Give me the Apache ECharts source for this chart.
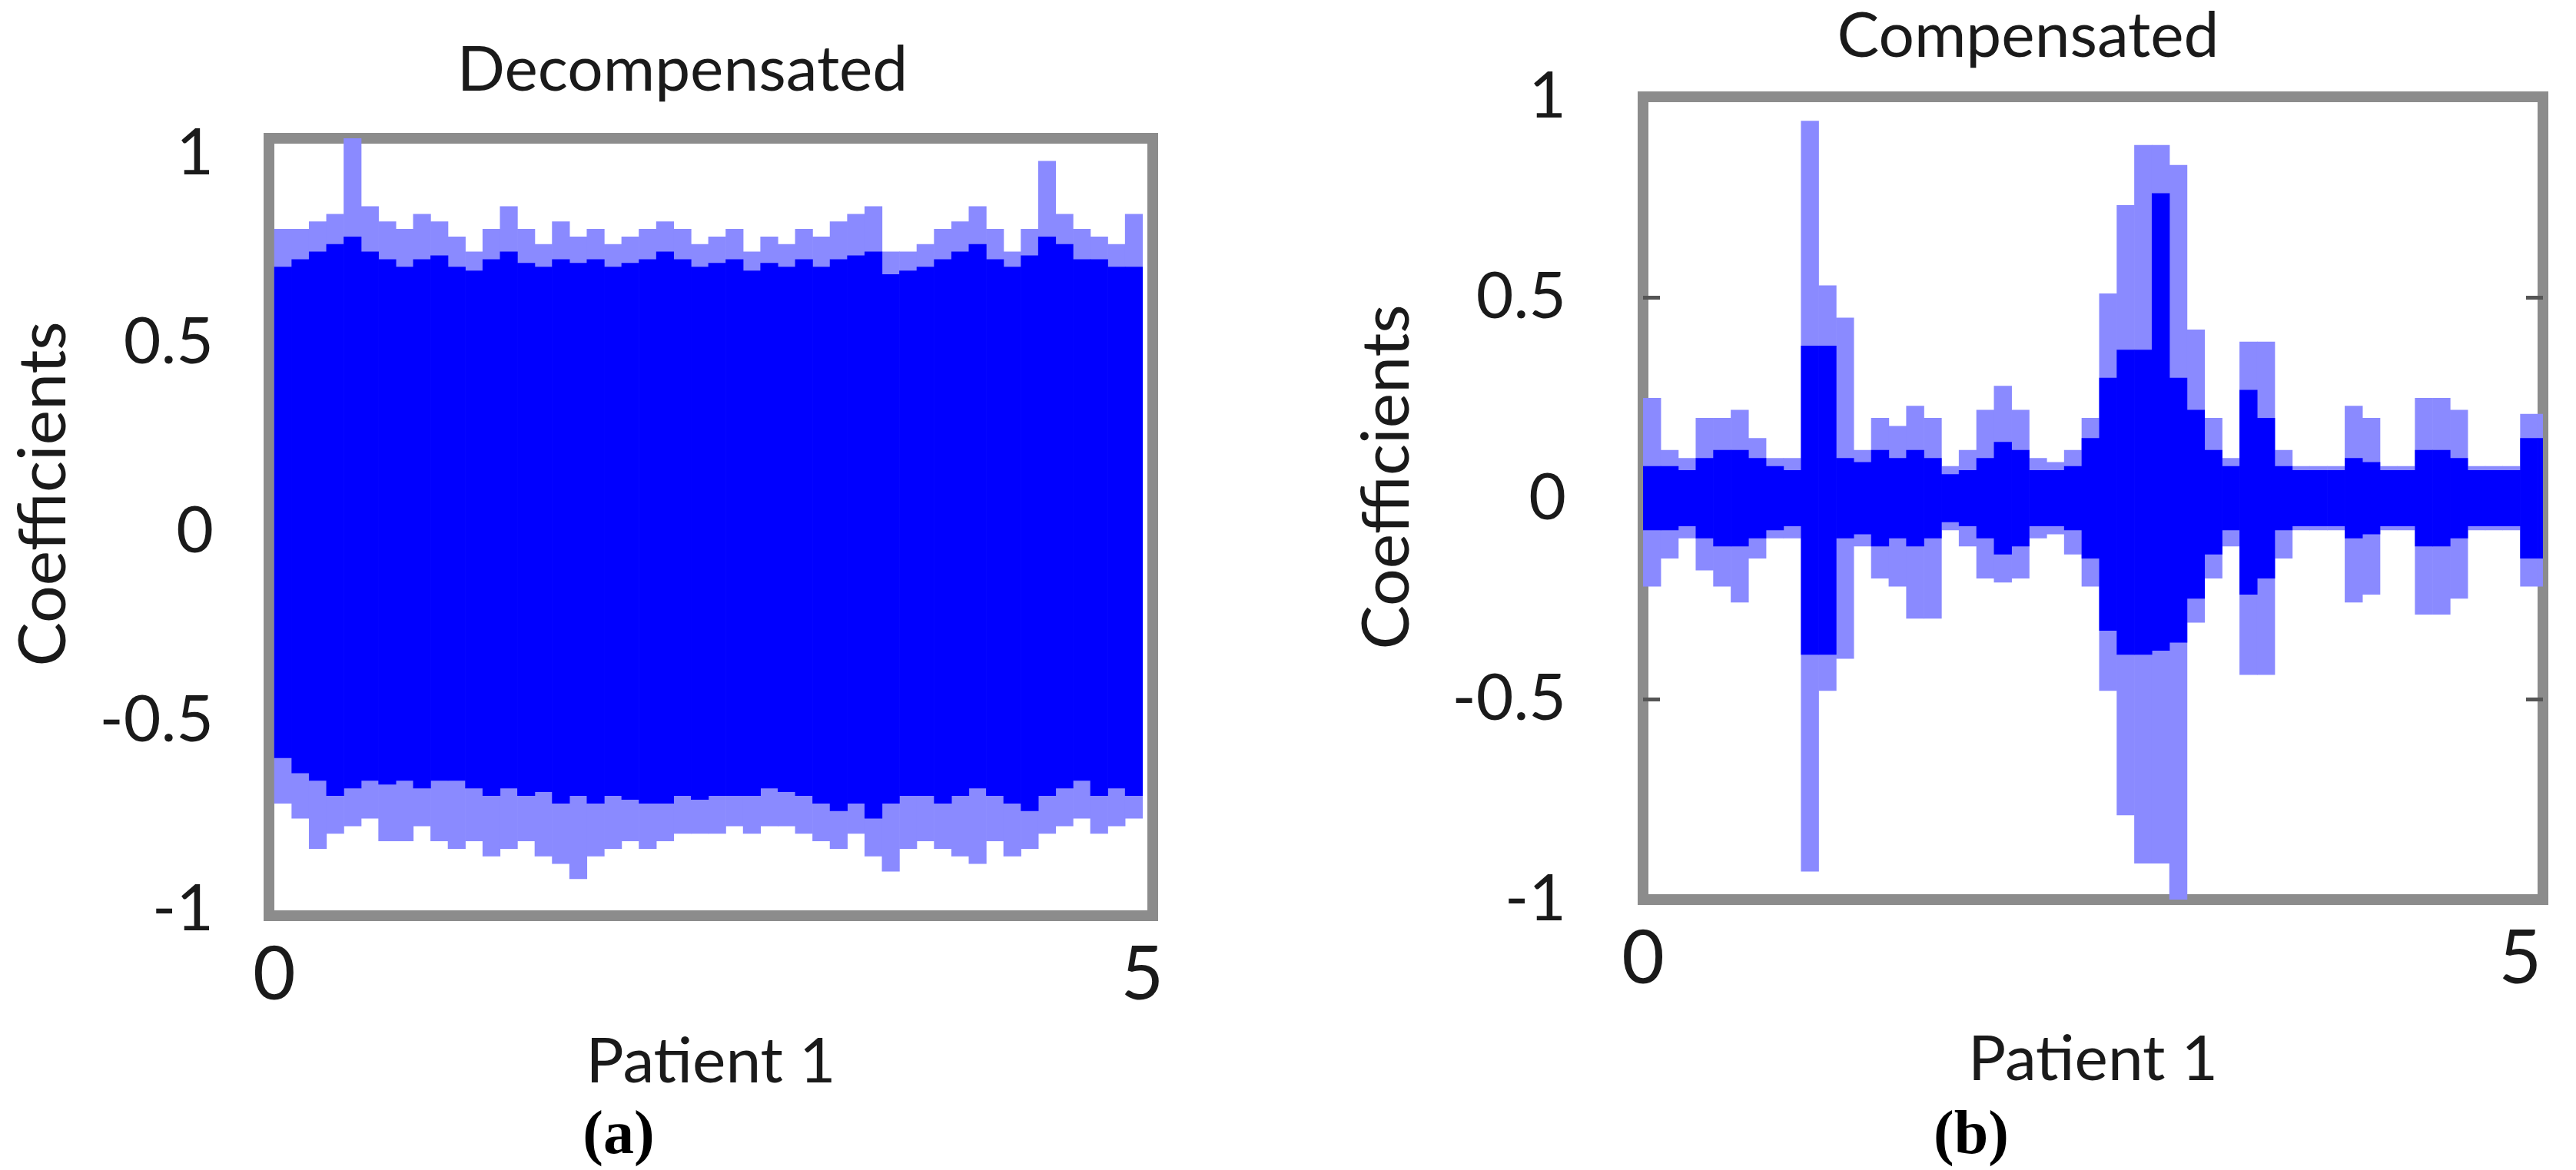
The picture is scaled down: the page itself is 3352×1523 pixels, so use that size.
<!DOCTYPE html>
<html><head><meta charset="utf-8">
<script src="https://cdn.jsdelivr.net/npm/echarts@6/dist/echarts.min.js"></script>
<style>html,body{margin:0;padding:0;background:#fff}#c{width:3352px;height:1523px}</style>
</head><body><div id="c"></div>
<script>
// Panel (a) Decompensated: bins of width 0.1 from 0 to 5
const binWidth = 0.1;
const aLightTop = [0.80,0.80,0.82,0.84,1.05,0.86,0.82,0.80,0.84,0.82, 0.78,0.74,0.80,0.86,0.80,0.76,0.82,0.78,0.80,0.76, 0.78,0.80,0.82,0.80,0.76,0.78,0.80,0.74,0.78,0.76, 0.80,0.78,0.82,0.84,0.86,0.74,0.74,0.76,0.80,0.82, 0.86,0.80,0.74,0.80,0.98,0.84,0.80,0.78,0.76,0.84];
const aCoreTop  = [0.70,0.72,0.74,0.76,0.78,0.74,0.72,0.70,0.72,0.73, 0.70,0.69,0.72,0.74,0.71,0.70,0.72,0.71,0.72,0.70, 0.71,0.72,0.74,0.72,0.70,0.71,0.72,0.69,0.71,0.70, 0.72,0.70,0.72,0.73,0.74,0.68,0.69,0.70,0.72,0.74, 0.76,0.72,0.70,0.73,0.78,0.76,0.72,0.72,0.70,0.70];
const aCoreBot  = [-0.60,-0.64,-0.66,-0.70,-0.68,-0.66,-0.67,-0.66,-0.68,-0.66, -0.66,-0.68,-0.70,-0.68,-0.70,-0.69,-0.72,-0.70,-0.72,-0.70, -0.71,-0.72,-0.72,-0.70,-0.71,-0.70,-0.70,-0.70,-0.68,-0.69, -0.70,-0.72,-0.74,-0.72,-0.76,-0.72,-0.70,-0.70,-0.72,-0.70, -0.68,-0.70,-0.72,-0.74,-0.70,-0.68,-0.66,-0.70,-0.68,-0.70];
const aLightBot = [-0.72,-0.76,-0.84,-0.80,-0.78,-0.76,-0.82,-0.82,-0.78,-0.82, -0.84,-0.82,-0.86,-0.84,-0.82,-0.86,-0.88,-0.92,-0.86,-0.84, -0.82,-0.84,-0.82,-0.80,-0.80,-0.80,-0.78,-0.80,-0.78,-0.78, -0.80,-0.82,-0.84,-0.80,-0.86,-0.90,-0.84,-0.82,-0.84,-0.86, -0.88,-0.82,-0.86,-0.84,-0.80,-0.78,-0.76,-0.80,-0.78,-0.76];
// Panel (b) Compensated
const bLightTop = [0.25,0.12,0.10,0.20,0.20,0.22,0.15,0.10,0.10,0.94, 0.53,0.45,0.12,0.20,0.18,0.23,0.20,0.08,0.12,0.22, 0.28,0.22,0.10,0.09,0.12,0.20,0.51,0.73,0.88,0.88, 0.83,0.42,0.20,0.10,0.39,0.39,0.12,0.08,0.08,0.08, 0.23,0.20,0.08,0.08,0.25,0.25,0.22,0.08,0.08,0.08, 0.21,0.21];
const bCoreTop  = [0.08,0.08,0.07,0.10,0.12,0.12,0.10,0.08,0.07,0.38, 0.38,0.10,0.09,0.12,0.10,0.12,0.10,0.06,0.07,0.10, 0.14,0.12,0.07,0.07,0.08,0.15,0.30,0.37,0.37,0.76, 0.30,0.22,0.12,0.08,0.27,0.20,0.08,0.07,0.07,0.07, 0.10,0.09,0.07,0.07,0.12,0.12,0.10,0.07,0.07,0.07, 0.15,0.15];
const bCoreBot  = [-0.08,-0.08,-0.07,-0.10,-0.12,-0.12,-0.10,-0.08,-0.07,-0.39, -0.39,-0.10,-0.09,-0.12,-0.10,-0.12,-0.10,-0.06,-0.07,-0.10, -0.14,-0.12,-0.07,-0.07,-0.08,-0.15,-0.33,-0.39,-0.39,-0.38, -0.36,-0.25,-0.14,-0.08,-0.24,-0.20,-0.08,-0.07,-0.07,-0.07, -0.10,-0.09,-0.07,-0.07,-0.12,-0.12,-0.10,-0.07,-0.07,-0.07, -0.15,-0.15];
const bLightBot = [-0.22,-0.15,-0.10,-0.18,-0.22,-0.26,-0.15,-0.10,-0.10,-0.93, -0.48,-0.40,-0.12,-0.20,-0.22,-0.30,-0.30,-0.08,-0.12,-0.20, -0.21,-0.20,-0.10,-0.09,-0.14,-0.22,-0.48,-0.79,-0.91,-0.91, -1.00,-0.31,-0.20,-0.12,-0.44,-0.44,-0.15,-0.08,-0.08,-0.08, -0.26,-0.24,-0.08,-0.08,-0.29,-0.29,-0.25,-0.08,-0.08,-0.08, -0.22,-0.22];
const yTicks = [-1, -0.5, 0, 0.5, 1];
const xTicks = [0, 5];
const titles = ['Decompensated', 'Compensated'];

function bins(top, bot) {
  return top.map((t, i) => [i * binWidth, (i + 1) * binWidth, t, bot[i]]);
}
function render(color) {
  return function (params, api) {
    const p0 = api.coord([api.value(0), api.value(2)]);
    const p1 = api.coord([api.value(1), api.value(3)]);
    return {type: 'rect', shape: {x: p0[0], y: p0[1], width: p1[0] - p0[0] + 0.6, height: p1[1] - p0[1]},
      style: {fill: color}};
  };
}
const FONT = 'Lato';
const light = '#8a8aff', core = '#0000ff';
function mkSeries(idx, top, bot, color, z) {
  return {type: 'custom', xAxisIndex: idx, yAxisIndex: idx * 2, renderItem: render(color), clip: true, z: z,
    encode: {x: [0, 1], y: [2, 3]}, data: bins(top, bot)};
}
const labelFmt = v => (v === -0.5 ? '-0.5' : String(v));
function yAx(grid, min, max, ticksShow, off) {
  return {type: 'value', gridIndex: grid, min: min, max: max, splitLine: {show: false},
    axisLine: {show: false},
    axisTick: {show: ticksShow, inside: true, length: 22, lineStyle: {color: '#555', width: 5}, customValues: [-0.5, 0.5]},
    axisLabel: {customValues: yTicks, formatter: labelFmt, fontFamily: FONT, fontSize: 84, color: '#1a1a1a', margin: off, padding: [ticksShow ? 48 : 0, 0, 0, 0]}};
}
function yAxR(grid, min, max, ticksShow) {
  return {type: 'value', gridIndex: grid, position: 'right', min: min, max: max, splitLine: {show: false},
    axisLine: {show: false}, axisLabel: {show: false},
    axisTick: {show: ticksShow, inside: true, length: 22, lineStyle: {color: '#555', width: 5}, customValues: [-0.5, 0.5]}};
}
function xAx(grid, min, max, name, gap) {
  return {type: 'value', gridIndex: grid, min: min, max: max, splitLine: {show: false},
    axisLine: {show: false}, axisTick: {show: false},
    axisLabel: {customValues: xTicks, fontFamily: FONT, fontSize: 96, color: '#1a1a1a', margin: 30},
    name: name, nameLocation: 'middle', nameGap: gap, nameTextStyle: {fontFamily: FONT, fontSize: 82, color: '#1a1a1a'}};
}
const chart = echarts.init(document.getElementById('c'));
const paren = {rich: {n: {fontFamily: 'Liberation Serif', fontSize: 80, color: '#000'}, b: {fontFamily: 'Liberation Serif', fontSize: 80, fontWeight: 'bold', color: '#000'}}};
chart.setOption({
  backgroundColor: '#fff',
  animation: false,
  title: [
    {text: titles[0], left: 883, top: 46, textAlign: 'center', textStyle: {fontFamily: FONT, fontSize: 82, fontWeight: 'normal', color: '#1a1a1a'}},
    {text: titles[1], left: 2634, top: 2, textAlign: 'center', textStyle: {fontFamily: FONT, fontSize: 82, fontWeight: 'normal', color: '#1a1a1a'}},
    {text: '{n|(}{b|a}{n|)}', left: 800, top: 1435, textAlign: 'center', textStyle: paren},
    {text: '{n|(}{b|b}{n|)}', left: 2560, top: 1435, textAlign: 'center', textStyle: paren}
  ],
  graphic: [
    {type: 'text', x: 57, y: 643, rotation: Math.PI / 2, style: {text: 'Coefficients', fontFamily: FONT, fontSize: 86, fill: '#1a1a1a', align: 'center', verticalAlign: 'middle'}},
    {type: 'text', x: 1805, y: 621, rotation: Math.PI / 2, style: {text: 'Coefficients', fontFamily: FONT, fontSize: 86, fill: '#1a1a1a', align: 'center', verticalAlign: 'middle'}}
  ],
  grid: [
    {left: 350, top: 180, width: 1150, height: 1012, show: true, borderColor: '#8c8c8c', borderWidth: 14, backgroundColor: 'transparent'},
    {left: 2138, top: 126, width: 1171, height: 1045, show: true, borderColor: '#8c8c8c', borderWidth: 14, backgroundColor: 'transparent'}
  ],
  xAxis: [xAx(0, -0.03, 5.06, 'Patient 1', 150), xAx(1, 0, 5.13, 'Patient 1', 168)],
  yAxis: [yAx(0, -1.017, 1.04, false, 72), yAxR(0, -1.017, 1.04, false), yAx(1, -1, 1, true, 100), yAxR(1, -1, 1, true)],
  series: [
    mkSeries(0, aLightTop, aLightBot, light, 1),
    mkSeries(0, aCoreTop, aCoreBot, core, 2),
    mkSeries(1, bLightTop, bLightBot, light, 1),
    mkSeries(1, bCoreTop, bCoreBot, core, 2)
  ]
});
</script></body></html>
